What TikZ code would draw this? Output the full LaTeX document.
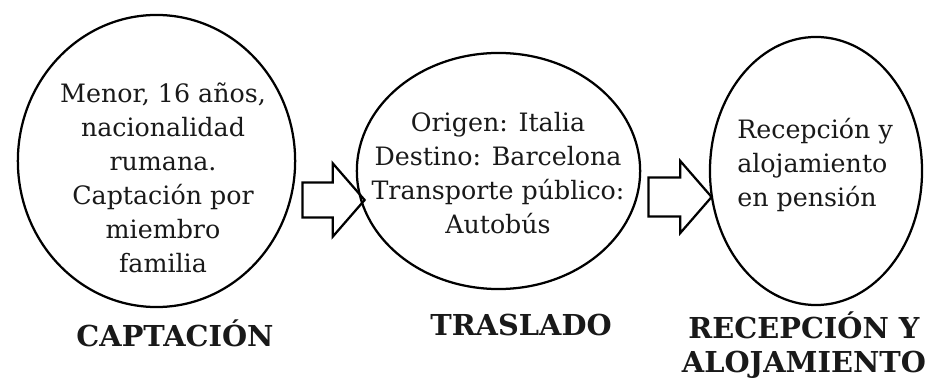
\documentclass[tikz,border=0pt]{standalone}
\usepackage{fontspec}
\setmainfont{DejaVu Serif}
\usetikzlibrary{shapes.geometric,shapes.arrows}

\begin{document}
\begin{tikzpicture}[x=0.025cm,y=-0.025cm]

    \useasboundingbox (0,0) rectangle (929,380);

    \scoped[every node/.style={ellipse,draw,line width=1.6pt,inner sep=0pt}]
    {
        \node[minimum width=6.93cm,minimum height=7.3cm] (captacion) at (156.5,161) {};
        \node[minimum width=7.08cm,minimum height=5.9cm] (traslado) at (498.5,171) {};
        \node[minimum width=5.3cm,minimum height=6.7cm] (recepcion) at (816,171) {};
    }

    \scoped[every node/.style={single arrow,draw,line width=1.6pt,inner xsep=0pt,
        single arrow tip angle=98}]
    {
        \node[minimum height=1.55cm,inner ysep=0.41cm,single arrow head extend=0.475cm]
            (flecha1) at (326,200) {};
        \node[minimum height=1.58cm,inner ysep=0.46cm,single arrow head extend=0.41cm]
            (flecha2) at (671.5,197) {};
    }

    \scoped[every node/.style={font=\fontsize{18}{24.2}\selectfont,text=black!90,inner sep=0pt}]
    {
        \node[align=center] (texto1) at (163,178)
            {Menor, 16 años,\\nacionalidad\\rumana.\\Captación por\\miembro\\familia};
        \node[align=center] (texto2) at (498,173)
            {Origen: Italia\\Destino: Barcelona\\Transporte público:\\Autobús};
        \node[align=left,anchor=west] (texto3) at (737,165)
            {Recepción y\\alojamiento\\en pensión};
    }

    \scoped[every node/.style={font=\bfseries\fontsize{20.5}{24.5}\selectfont,text=black!90,
        inner sep=0pt}]
    {
        \node (etiqueta1) at (175,333) {CAPTACIÓN};
        \node (etiqueta2) at (521,325) {TRASLADO};
        \node[align=center] (etiqueta3) at (804,345) {RECEPCIÓN Y\\ALOJAMIENTO};
    }

\end{tikzpicture}
\end{document}
